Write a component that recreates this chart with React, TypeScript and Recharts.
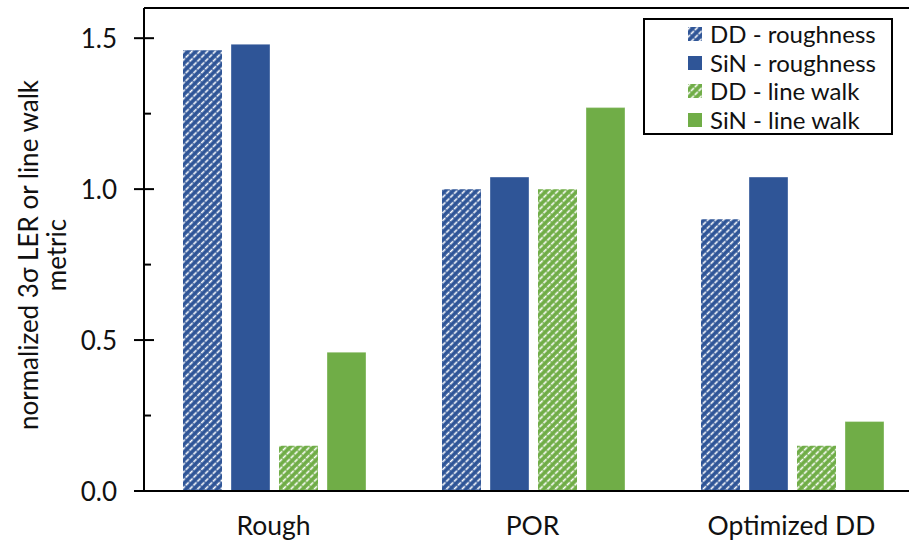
import React from "react";
import {
  BarChart, Bar, XAxis, YAxis, ReferenceLine,
} from "recharts";

const categories = ["Rough", "POR", "Optimized DD"];
const ddRoughness = [1.46, 1.0, 0.9];
const sinRoughness = [1.48, 1.04, 1.04];
const ddLineWalk = [0.15, 1.0, 0.15];
const sinLineWalk = [0.46, 1.27, 0.23];
const yTicks = [0, 0.25, 0.5, 0.75, 1.0, 1.25, 1.5];
const majorTicks = [0, 0.5, 1.0, 1.5];

const BLUE = "#2F5597";
const GREEN = "#70AD47";
const FONT = "Lato, 'Open Sans', sans-serif";

const series = [
  { key: "ddRough", name: "DD - roughness", color: BLUE, hatch: true },
  { key: "sinRough", name: "SiN - roughness", color: BLUE, hatch: false },
  { key: "ddLine", name: "DD - line walk", color: GREEN, hatch: true },
  { key: "sinLine", name: "SiN - line walk", color: GREEN, hatch: false },
];

const data = categories.map((c, i) => ({
  name: c,
  ddRough: ddRoughness[i],
  sinRough: sinRoughness[i],
  ddLine: ddLineWalk[i],
  sinLine: sinLineWalk[i],
}));

const fillFor = (s: { color: string; hatch: boolean }) =>
  s.hatch ? `url(#hatch${s.color.replace("#", "")})` : s.color;

const HatchDefs = () => (
  <defs>
    {[BLUE, GREEN].map((c) => (
      <pattern key={c} id={`hatch${c.replace("#", "")}`} patternUnits="userSpaceOnUse"
        width={5.5} height={5.5} patternTransform="rotate(45)">
        <rect x={0} y={0} width={5.5} height={5.5} fill={c} />
        <line x1={1.5} y1={0} x2={1.5} y2={5.5} stroke="#fff" strokeWidth={1.6}
          strokeDasharray="3 1.2" />
      </pattern>
    ))}
  </defs>
);

const YTick = (props: any) => {
  const { x, y, payload } = props;
  const v = payload.value;
  const major = majorTicks.some((m) => Math.abs(m - v) < 1e-6);
  return (
    <g>
      {major ? (
        <>
          <line x1={x - 10} x2={x + 10} y1={y} y2={y} stroke="#000" strokeWidth={2} />
          <text x={x - 27} y={y} textAnchor="end" dominantBaseline="central"
            fontSize={26} fontFamily={FONT} fill="#111">
            {v.toFixed(1)}
          </text>
        </>
      ) : (
        <line x1={x} x2={x + 7} y1={y} y2={y} stroke="#000" strokeWidth={2} />
      )}
    </g>
  );
};

const XTick = (props: any) => {
  const { x, y, payload } = props;
  return (
    <text x={x} y={y + 26} textAnchor="middle" dominantBaseline="central"
      fontSize={26.5} fontFamily={FONT} fill="#111">
      {payload.value}
    </text>
  );
};

const LegendBox = () => (
  <div style={{
    position: "absolute", left: 643, top: 18, width: 250, height: 117,
    border: "2px solid #000", background: "#fff", boxSizing: "border-box",
    fontFamily: FONT, fontSize: 24, color: "#111", paddingTop: 0,
  }}>
    {series.map((s) => (
      <div key={s.key} style={{ display: "flex", alignItems: "center", height: 28.5, paddingLeft: 43 }}>
        <svg width={14} height={14} style={{ marginRight: 8 }}>
          <rect x={0} y={0} width={14} height={14} fill={fillFor(s)} />
        </svg>
        <span style={{ lineHeight: "28px" }}>{s.name}</span>
      </div>
    ))}
  </div>
);

export default function App() {
  return (
    <div style={{
      position: "absolute", left: 0, top: 0, width: 909, height: 544,
      overflow: "hidden", background: "#fff",
    }}>
      <svg width={0} height={0} style={{ position: "absolute" }}>
        <HatchDefs />
      </svg>
      <BarChart width={930} height={544} data={data}
        margin={{ top: 8, right: 9, left: 0, bottom: 0 }}
        barCategoryGap={39} barGap={9}>
        <XAxis dataKey="name" axisLine={{ stroke: "#000", strokeWidth: 2 }} tickLine={false}
          tick={<XTick />} height={53} interval={0} />
        <YAxis width={144} domain={[0, 1.6]} ticks={yTicks} allowDataOverflow
          axisLine={{ stroke: "#000", strokeWidth: 2 }} tickLine={false}
          tickSize={0} tickMargin={0} tick={<YTick />} interval={0} />
        <ReferenceLine y={1.6} stroke="#000" strokeWidth={2} />
        {series.map((s) => (
          <Bar key={s.key} dataKey={s.key} name={s.name} fill={fillFor(s)}
            stroke={s.hatch ? "none" : "rgba(255,255,255,0.35)"} strokeWidth={1}
            isAnimationActive={false} />
        ))}
        <g transform="rotate(-90)">
          <text x={-255} y={38} textAnchor="middle" fontFamily={FONT} fontSize={26} fill="#111">
            normalized 3σ LER or line walk
          </text>
          <text x={-255} y={66} textAnchor="middle" fontFamily={FONT} fontSize={26} fill="#111">
            metric
          </text>
        </g>
      </BarChart>
      <LegendBox />
    </div>
  );
}
